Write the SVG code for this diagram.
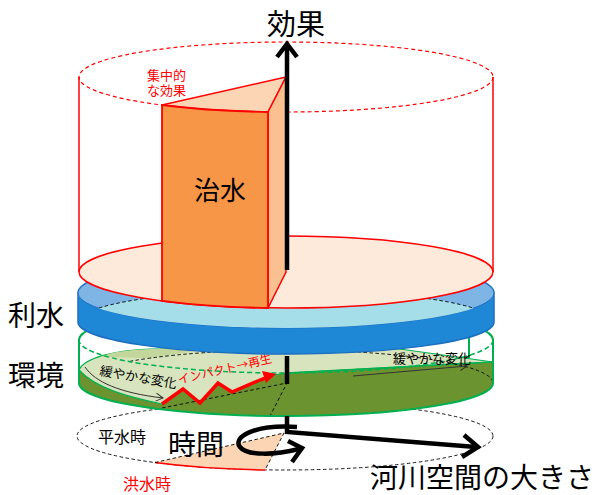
<svg xmlns="http://www.w3.org/2000/svg" width="602" height="495" viewBox="0 0 602 495">
<defs>
<style>
text{font-family:"Liberation Sans","Noto Sans CJK JP",sans-serif;}
.cjk{font-family:"Noto Sans CJK JP",sans-serif;}
.red{stroke:#FF0000;fill:none;stroke-width:1.5}
.dashr{stroke:#FF0000;fill:none;stroke-width:1.2;stroke-dasharray:4 3}
.dashk{stroke:#000;fill:none;stroke-width:0.9;stroke-dasharray:3.5 2.5}
.dashg{stroke:#00B050;fill:none;stroke-width:1.5;stroke-dasharray:5 3}
.g{stroke:#00B050;stroke-width:2}
.ax{stroke:#000;fill:none;stroke-width:4.5;stroke-linejoin:miter}
.thin{stroke:#333;fill:none;stroke-width:1}
</style>
<clipPath id="blueTop"><ellipse cx="286" cy="293" rx="208" ry="35"/></clipPath>
<marker id="open" markerWidth="10" markerHeight="10" refX="8" refY="5" orient="auto" markerUnits="userSpaceOnUse">
<path d="M1,1 L8,5 L1,9" fill="none" stroke="#333" stroke-width="1"/>
</marker>
</defs>

<!-- time ellipse at bottom -->
<g id="time-plane">
<ellipse cx="285" cy="436" rx="208" ry="34" class="dashk" stroke-width="1"/>
<path d="M155,462.5 A208,34 0 0 0 265,470 L284,433 Z" fill="#FCD5B4"/>
<path d="M155,462.5 A208,34 0 0 0 265,470" class="red" stroke-width="2"/>
<path d="M155,462.5 L284,433 L265,470" class="dashk"/>
</g>

<!-- environment disk -->
<g id="kankyo-disk">
<path d="M79,340 L79,383 A207,33 0 0 0 493,383 L493,340 A207,33 0 0 0 79,340 Z" fill="#fff"/>
<path d="M79,370 L79,383 A207,33 0 0 0 493,383 L493,362 L287,373 L273,375 L260,380 L232,392 L218,383 L200,403 L183,389 L162,404 C128,397 95,388 79,370 Z" fill="#6B9330"/>
<path d="M79,370 C84,358 115,350 150,349 L400,349 L493,362 L287,373 L273,375 L260,380 L232,392 L218,383 L200,403 L183,389 L162,404 C128,397 95,388 79,370 Z" fill="#D7E4BD" stroke="#00B050" stroke-width="1.2"/>
<path d="M100,357 C115,351 130,350 150,349 L196,349 L190,352 L147,358 Z" fill="#C3D69B"/>
<path d="M130,361.3 A207,33 0 0 1 493,383" class="dashk"/>
<path d="M162,408 L287,383 L270,416" class="dashk"/>
<path d="M79,340 L79,383 A207,33 0 0 0 493,383 L493,340 A207,33 0 0 0 79,340" fill="none" class="g"/>
<ellipse cx="286" cy="340" rx="207" ry="33" class="dashg"/>
<line x1="469" y1="337" x2="469" y2="358" class="g" stroke-width="1.5"/>
<line x1="287" y1="373" x2="493" y2="362" stroke="#00B050" stroke-width="1.5"/>
<path d="M85,367 C95,382 120,393 163,398" class="thin" marker-end="url(#open)"/>
<path d="M353,376 L467,366" class="thin" marker-end="url(#open)"/>
<text x="99" y="375" font-size="13" fill="#000" transform="rotate(10 99 375)">緩やかな変化</text>
<text x="393" y="363" font-size="13" fill="#000">緩やかな変化</text>
<polyline points="162,404 183,389 200,403 218,383 232,392 260,380 268,377" fill="none" stroke="#FF0000" stroke-width="3.5" stroke-linejoin="miter"/>
<path d="M276,374 L262,371 L266,383 Z" fill="#FF0000"/>
<text x="179" y="384" font-size="12" class="cjk" fill="#FF0000" transform="rotate(-13 179 384)">インパクト→再生</text>
</g>

<!-- water use disk -->
<g id="risui-disk">
<path d="M78,293 L78,322 A208,32 0 0 0 494,322 L494,293 A208,35 0 0 0 78,293 Z" fill="#1F88D6" stroke="#1B6EC0" stroke-width="1.5"/>
<ellipse cx="286" cy="293" rx="208" ry="35" fill="#7EB5E5" stroke="#1B6EC0" stroke-width="1"/>
<ellipse cx="286" cy="322" rx="208" ry="32" fill="#A5DEE9" clip-path="url(#blueTop)"/>
<ellipse cx="286" cy="322" rx="208" ry="32" class="dashk" clip-path="url(#blueTop)"/>
</g>

<!-- flood control cylinder -->
<g id="chisui-cylinder">
<ellipse cx="286" cy="77" rx="207" ry="35" class="dashr"/>
<line x1="79" y1="77" x2="79" y2="272" class="red"/>
<line x1="493" y1="77" x2="493" y2="272" class="red"/>
<ellipse cx="286" cy="272" rx="207" ry="36" fill="#FDEADA" stroke="#FF0000" stroke-width="1.5"/>
<path d="M162,300.8 L286,272 L268,308" class="dashk"/>
</g>

<g id="chisui-wedge">
<path d="M162,105 A207,35 0 0 0 268,112 L286,77 Z" fill="#FCD5B4" stroke="#FF0000" stroke-width="1.5" stroke-linejoin="round"/>
<path d="M268,112 L286,77 L286,272 L268,308 Z" fill="#FAC090" stroke="#FF0000" stroke-width="1.5" stroke-linejoin="round"/>
<path d="M162,105 A207,35 0 0 0 268,112 L268,308 A207,36 0 0 1 162,300.8 Z" fill="#F79646" stroke="#FF0000" stroke-width="1.8"/>
<text x="220" y="200" font-size="26" text-anchor="middle" fill="#000">治水</text>
<text x="147" y="80" font-size="13" fill="#FF0000">集中的</text>
<text x="147" y="95" font-size="13" fill="#FF0000">な効果</text>
</g>

<!-- axes / connectors -->
<g id="connectors">
<line x1="287" y1="270" x2="287" y2="44" class="ax"/>
<polyline points="277,57 287,44 297,57" class="ax"/>
<line x1="287" y1="356" x2="287" y2="384" class="ax" stroke-width="4"/>
<polyline points="287,416 287,432 476,447" class="ax" stroke-width="4"/>
<polyline points="464,435 478,447 462,457" class="ax" stroke-width="4"/>
<path d="M297,427 C255,424 232,437 240,447 C247,456 275,455 299,449" class="ax" stroke-width="4"/>
<polyline points="288,441 302,448 292,462" class="ax" stroke-width="4"/>
</g>

<!-- labels -->
<g id="labels">
<text x="296" y="35" font-size="29" text-anchor="middle" fill="#000">効果</text>
<text x="8" y="326" font-size="28" fill="#000">利水</text>
<text x="8" y="386" font-size="28" fill="#000">環境</text>
<text x="168" y="455" font-size="28" fill="#000">時間</text>
<text x="98" y="443" font-size="16" fill="#000">平水時</text>
<text x="123" y="490" font-size="16" fill="#FF0000">洪水時</text>
<text x="370" y="488" font-size="28" fill="#000">河川空間の大きさ</text>
</g>
</svg>
